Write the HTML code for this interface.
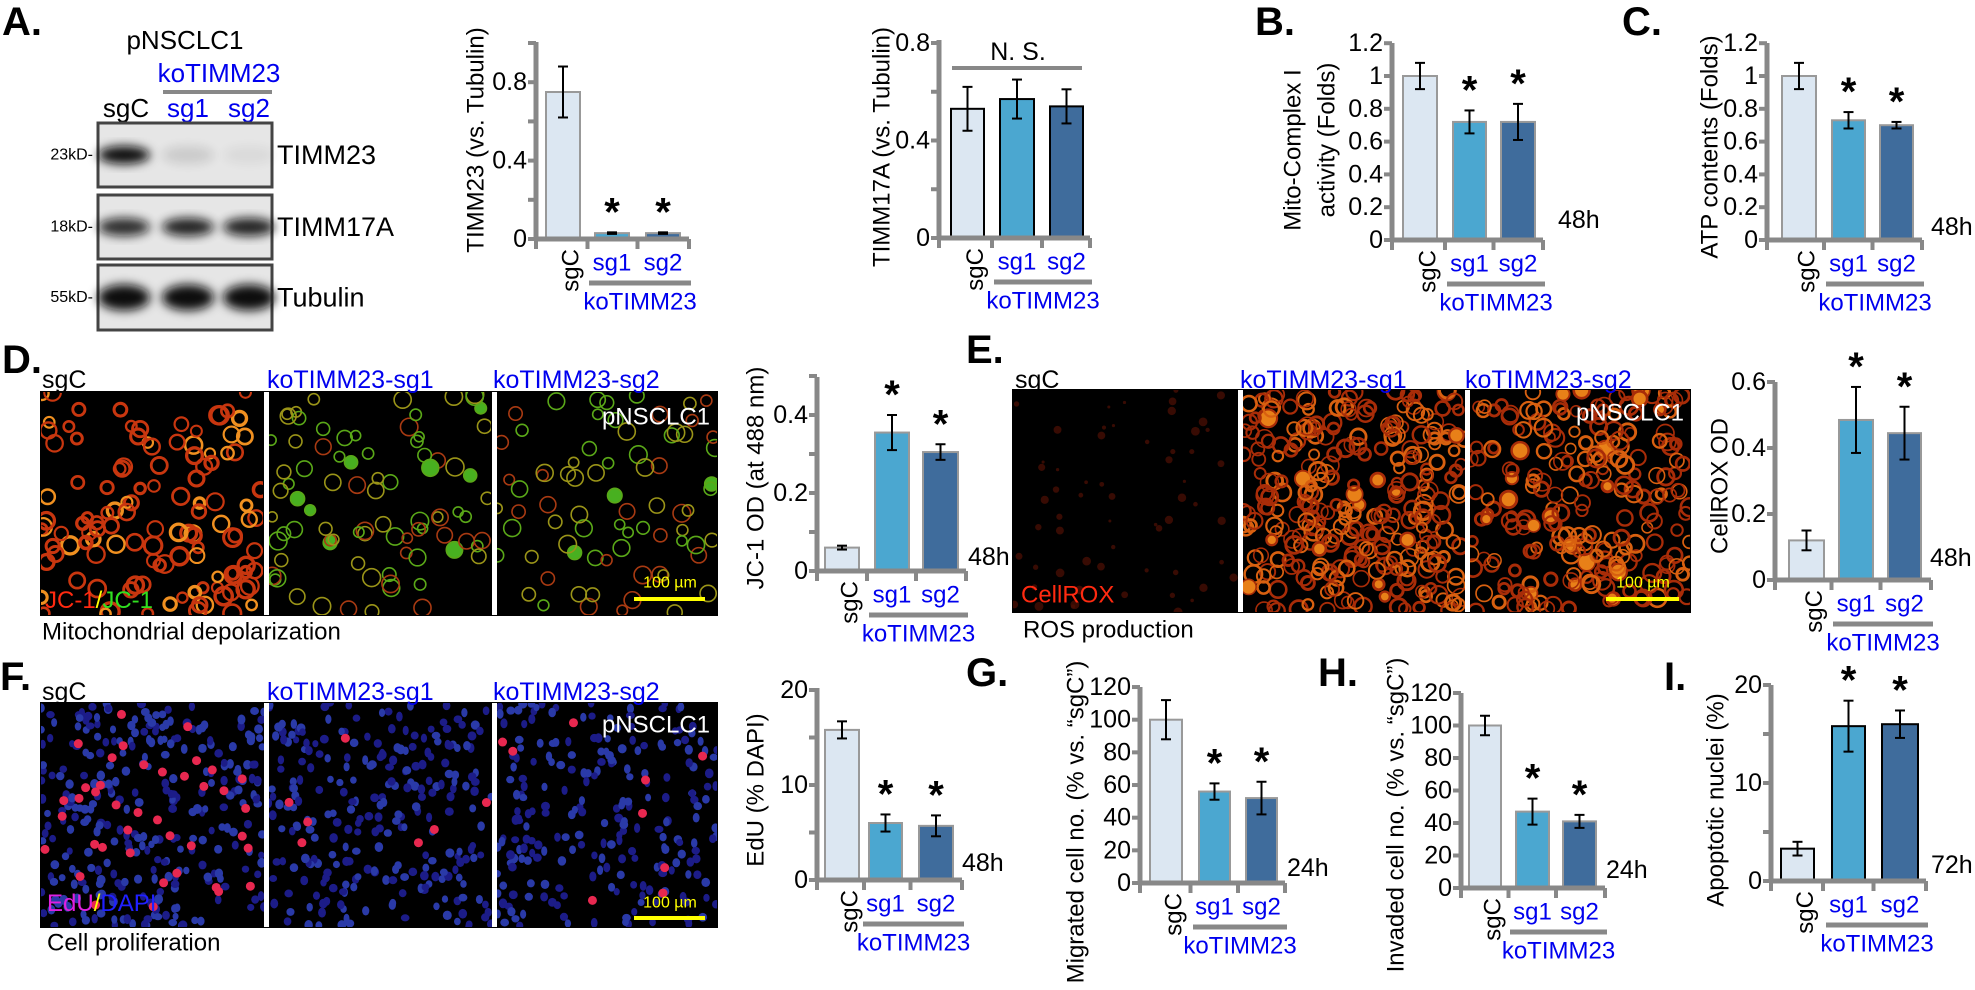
<!DOCTYPE html>
<html><head><meta charset="utf-8">
<style>
html,body{margin:0;padding:0;background:#fff;}
svg{display:block;}
text{font-family:"Liberation Sans",Arial,sans-serif;}
</style></head>
<body>
<svg id="s" width="1975" height="990" viewBox="0 0 1975 990" xmlns="http://www.w3.org/2000/svg">
<defs>
<filter id="bl" x="-20%" y="-50%" width="140%" height="200%"><feGaussianBlur stdDeviation="5"/></filter>
</defs>
<g id="g"></g>
</svg>
<script>
var out=[];
function T(x,y,t,o){o=o||{};out.push('<text x="'+x+'" y="'+y+'" font-size="'+(o.fs||24)+'" fill="'+(o.c||'#000')+'"'+(o.b?' font-weight="bold"':'')+' text-anchor="'+(o.a||'start')+'" dominant-baseline="'+(o.db||'central')+'"'+(o.rot?' transform="rotate(-90 '+x+' '+y+')"':'')+'>'+t+'</text>');}
function L(x1,y1,x2,y2,c,w){out.push('<line x1="'+x1+'" y1="'+y1+'" x2="'+x2+'" y2="'+y2+'" stroke="'+c+'" stroke-width="'+w+'"/>');}
function R(x,y,w,h,f,s,sw){out.push('<rect x="'+x+'" y="'+y+'" width="'+w+'" height="'+h+'" fill="'+f+'"'+(s?' stroke="'+s+'" stroke-width="'+(sw||2)+'"':'')+'/>');}
var BL='#0000ee', GR='#888';
var COL=['#dce7f2','#4ba7d0','#3f6c9c'];
function chart(c){
  var ax=c.ax,y0=c.y0,p=c.ppu;
  for(var i=0;i<3;i++){var b=c.bars[i],v=c.v[i],e=c.e[i];
    var yt=y0-v*p; R(b[0],yt,b[1]-b[0],y0-yt,COL[i],c.bc||'#999',2);
    var cx=(b[0]+b[1])/2; L(cx,yt-e*p,cx,yt+e*p,'#000',2);L(cx-5,yt-e*p,cx+5,yt-e*p,'#000',2);L(cx-5,yt+e*p,cx+5,yt+e*p,'#000',2);
    if(i>0&&c.star) T(cx,yt-e*p-20,'*',{fs:40,b:1,a:'middle'});
  }
  L(ax,c.top,ax,y0+2,GR,5); L(ax-2,y0,c.end,y0,GR,5);
  c.ticks.forEach(function(t){var y=y0-t[0]*p;L(ax-8,y,ax,y,GR,4);if(t[1]!==null)T(ax-9,y,t[1],{fs:25,a:'end'});});
  var xs=[ax,(c.bars[0][1]+c.bars[1][0])/2,(c.bars[1][1]+c.bars[2][0])/2,c.end];
  xs.forEach(function(x){L(x,y0,x,y0+10,GR,4);});
  var ly=y0+24;
  T((c.bars[0][0]+c.bars[0][1])/2+8,y0+10,'sgC',{fs:24,a:'end',rot:1});
  T((c.bars[1][0]+c.bars[1][1])/2,ly,'sg1',{fs:24,a:'middle',c:BL});
  T((c.bars[2][0]+c.bars[2][1])/2,ly,'sg2',{fs:24,a:'middle',c:BL});
  var lx1=c.bars[1][0]-6,lx2=c.end+2; L(lx1,y0+44,lx2,y0+44,GR,5);
  T((lx1+lx2)/2,y0+63,'koTIMM23',{fs:24,a:'middle',c:BL});
  c.yl.forEach(function(l){T(l[0],l[1],l[2],{fs:24,a:'middle',rot:1});});
  if(c.tl) T(c.tl[0],c.tl[1],c.tl[2],{fs:25});
}
function tk(arr,minor){var r=arr.map(function(a){return a;});(minor||[]).forEach(function(m){r.push([m,null]);});return r;}
chart({ax:536,y0:239,ppu:196,top:42,end:689,bars:[[546,580],[595,629],[646,680]],v:[0.75,0.03,0.03],e:[0.13,0.004,0.004],star:1,
 ticks:tk([[0,'0'],[0.4,'0.4'],[0.8,'0.8']],[0.2,0.6,1.0]),yl:[[476,140,'TIMM23 (vs. Tubulin)']]});
chart({ax:939,y0:238,ppu:243.75,top:40,end:1090,bc:'#000',bars:[[951,984],[1000,1034],[1050,1083]],v:[0.53,0.57,0.54],e:[0.09,0.08,0.07],
 ticks:tk([[0,'0'],[0.4,'0.4'],[0.8,'0.8']],[0.2,0.6]),yl:[[882,147,'TIMM17A (vs. Tubulin)']]});
L(952,68,1082,68,GR,4); T(1018,52,'N. S.',{fs:25,a:'middle'});
var bt=tk([[0,'0'],[0.2,'0.2'],[0.4,'0.4'],[0.6,'0.6'],[0.8,'0.8'],[1,'1'],[1.2,'1.2']]);
chart({ax:1392,y0:240,ppu:164,top:43,end:1543,bars:[[1403,1437],[1453,1486],[1501,1535]],v:[1,0.72,0.72],e:[0.08,0.07,0.11],star:1,
 ticks:bt,yl:[[1293,150,'Mito-Complex I'],[1327,140,'activity (Folds)']],tl:[1558,220,'48h']});
chart({ax:1767,y0:240,ppu:164,top:43,end:1922,bars:[[1782,1816],[1832,1865],[1880,1913]],v:[1,0.73,0.70],e:[0.08,0.05,0.02],star:1,
 ticks:bt,yl:[[1710,147,'ATP contents (Folds)']],tl:[1931,227,'48h']});
chart({ax:817,y0:571,ppu:390,top:377,end:966,bars:[[825,859],[875,909],[923,958]],v:[0.06,0.355,0.305],e:[0.005,0.045,0.02],star:1,
 ticks:tk([[0,'0'],[0.2,'0.2'],[0.4,'0.4']],[0.1,0.3,0.5]),yl:[[756,478,'JC-1 OD (at 488 nm)']],tl:[968,557,'48h']});
chart({ax:1775,y0:580,ppu:330,top:382,end:1931,bars:[[1789,1824],[1839,1873],[1888,1921]],v:[0.12,0.485,0.445],e:[0.03,0.1,0.08],star:1,
 ticks:tk([[0,'0'],[0.2,'0.2'],[0.4,'0.4'],[0.6,'0.6']]),yl:[[1720,486,'CellROX OD']],tl:[1930,558,'48h']});
chart({ax:817,y0:880,ppu:9.5,top:688,end:962,bars:[[825,859],[869,902],[919,953]],v:[15.8,6,5.7],e:[0.9,0.9,1.1],star:1,
 ticks:tk([[0,'0'],[10,'10'],[20,'20']],[5,15]),yl:[[756,790,'EdU (% DAPI)']],tl:[962,863,'48h']});
var gt=tk([[0,'0'],[20,'20'],[40,'40'],[60,'60'],[80,'80'],[100,'100'],[120,'120']]);
chart({ax:1140,y0:883,ppu:1.633,top:687,end:1285,bars:[[1150,1182],[1199,1230],[1246,1277]],v:[100,56,52],e:[12,5,10],star:1,
 ticks:gt,yl:[[1076,822,'Migrated cell no. (% vs. “sgC”)']],tl:[1287,868,'24h']});
chart({ax:1461,y0:888,ppu:1.625,top:693,end:1605,bars:[[1469,1501],[1516,1549],[1563,1596]],v:[100,47,41],e:[6,8,4],star:1,
 ticks:gt,yl:[[1396,815,'Invaded cell no. (% vs. “sgC”)']],tl:[1606,870,'24h']});
chart({ax:1771,y0:881,ppu:9.8,top:685,end:1926,bc:'#000',bars:[[1781,1814],[1832,1865],[1882,1918]],v:[3.3,15.8,16],e:[0.7,2.6,1.4],star:1,
 ticks:tk([[0,'0'],[10,'10'],[20,'20']],[5,15]),yl:[[1716,800,'Apoptotic nuclei (%)']],tl:[1931,865,'72h']});

[['A.',2,22],['B.',1255,22],['C.',1622,22],['D.',2,360],['E.',966,350],['F.',0,677],['G.',966,673],['H.',1318,673],['I.',1664,677]].forEach(function(l){T(l[1],l[2],l[0],{fs:40,b:1});});

T(185,40,'pNSCLC1',{fs:26,a:'middle'});
T(219,73,'koTIMM23',{fs:26,a:'middle',c:BL});
L(163,92,272,92,GR,4);
T(126,108,'sgC',{fs:26,a:'middle'});T(188,108,'sg1',{fs:26,a:'middle',c:BL});T(249,108,'sg2',{fs:26,a:'middle',c:BL});
var boxes=[[123,187,'TIMM23','23kD-',[1,0.12,0.05],9],[195,259,'TIMM17A','18kD-',[0.85,0.9,0.9],9],[265,330,'Tubulin','55kD-',[1,1,1],13]];
boxes.forEach(function(b){R(98,b[0],174,b[1]-b[0],'#e6e6e6','#444',3);
 var cy=(b[0]+b[1])/2;[124,188,249].forEach(function(x,i){var a=b[4][i];out.push('<ellipse cx="'+x+'" cy="'+cy+'" rx="26" ry="'+b[5]+'" fill="#111" opacity="'+a+'" filter="url(#bl)"/>');});
 T(277,cy,b[2],{fs:27});T(93,cy,b[3],{fs:16,a:'end'});});

var seed=7;function rnd(){seed=(seed*16807)%2147483647;return seed/2147483647;}
function panel(x,y,w,h,kind,n){
 out.push('<svg x="'+x+'" y="'+y+'" width="'+w+'" height="'+h+'"><rect width="'+w+'" height="'+h+'" fill="#000"/>');
 for(var i=0;i<n;i++){var cx=rnd()*w,cy=rnd()*h;
  if(kind=='ro'){var r=5+rnd()*4;out.push('<circle cx="'+cx+'" cy="'+cy+'" r="'+r+'" fill="none" stroke="'+(rnd()<0.25?'#f09020':'#c8360f')+'" stroke-width="'+(2+rnd()*1.5)+'"/>');}
  else if(kind=='gr'){var r=5+rnd()*4;var c=rnd();out.push('<circle cx="'+cx+'" cy="'+cy+'" r="'+r+'" fill="'+(c<0.04?'#48b020':'none')+'" stroke="'+(c<0.45?'#5aa818':c<0.75?'#9a9418':'#a83a12')+'" stroke-width="1.6"/>');}
  else if(kind=='dr'){out.push('<circle cx="'+cx+'" cy="'+cy+'" r="'+(1.5+rnd()*3)+'" fill="#501004" opacity="0.7"/>');}
  else if(kind=='or'){var r=5+rnd()*4;var c=rnd();out.push('<circle cx="'+cx+'" cy="'+cy+'" r="'+r+'" fill="'+(c<0.05?'#e88018':'none')+'" stroke="'+(c<0.6?'#a82c08':'#d86010')+'" stroke-width="'+(1.5+rnd()*1.5)+'"/>');}
  else if(kind=='bl'){var c=rnd();out.push('<ellipse cx="'+cx+'" cy="'+cy+'" rx="'+(3+rnd()*1.5)+'" ry="'+(3.5+rnd()*1.5)+'" fill="'+(c<0.5?'#1c1c88':'#2a3aa8')+'"/>');}
 }
 out.push('</svg>');
}
R(40,391,678,225,'#000');
panel(41,392,222,223,'ro',120);panel(269,392,222,223,'gr',85);panel(497,392,220,223,'gr',75);
R(264,392,5,223,'#fff');R(492,392,5,223,'#fff');
T(42,380,'sgC',{fs:25});T(267,380,'koTIMM23-sg1',{fs:25,c:BL});T(493,380,'koTIMM23-sg2',{fs:25,c:BL});
T(710,417,'pNSCLC1',{fs:24,c:'#fff',a:'end'});
L(634,599,705,599,'#ffff00',4);T(670,583,'100 µm',{fs:16,c:'#ffff00',a:'middle'});
out.push('<text x="45" y="600" font-size="24" dominant-baseline="central"><tspan fill="#ff2a10">JC-1</tspan><tspan fill="#ffff00">/</tspan><tspan fill="#30e020">JC-1</tspan></text>');
T(42,632,'Mitochondrial depolarization',{fs:24});
R(1012,389,679,224,'#000');
panel(1013,390,225,222,'dr',60);panel(1243,390,222,222,'or',300);panel(1470,390,220,222,'or',230);
R(1238,390,5,222,'#fff');R(1465,390,5,222,'#fff');
T(1015,380,'sgC',{fs:25});T(1240,380,'koTIMM23-sg1',{fs:25,c:BL});T(1465,380,'koTIMM23-sg2',{fs:25,c:BL});
T(1684,413,'pNSCLC1',{fs:24,c:'#fff',a:'end'});
L(1606,599,1679,599,'#ffff00',4);T(1643,583,'100 µm',{fs:16,c:'#ffff00',a:'middle'});
T(1021,595,'CellROX',{fs:24,c:'#ff2a10'});
T(1023,630,'ROS production',{fs:24});
R(40,702,678,226,'#000');
seed=99;panel(41,703,223,224,'bl',300);seed=11;panel(269,703,223,224,'bl',260);seed=21;panel(497,703,220,224,'bl',230);
seed=5;for(var i=0;i<40;i++){out.push('<circle cx="'+(45+rnd()*215)+'" cy="'+(706+rnd()*218)+'" r="4.5" fill="#e82850"/>');}
for(var i=0;i<7;i++){out.push('<circle cx="'+(272+rnd()*215)+'" cy="'+(706+rnd()*218)+'" r="4.5" fill="#e82850"/>');}
for(var i=0;i<9;i++){out.push('<circle cx="'+(500+rnd()*212)+'" cy="'+(706+rnd()*218)+'" r="4.5" fill="#e82850"/>');}
R(264,703,5,224,'#fff');R(492,703,5,224,'#fff');
T(42,692,'sgC',{fs:25});T(267,692,'koTIMM23-sg1',{fs:25,c:BL});T(493,692,'koTIMM23-sg2',{fs:25,c:BL});
T(710,725,'pNSCLC1',{fs:24,c:'#fff',a:'end'});
L(634,918,705,918,'#ffff00',4);T(670,903,'100 µm',{fs:16,c:'#ffff00',a:'middle'});
out.push('<text x="47" y="903" font-size="24" dominant-baseline="central"><tspan fill="#e020e0">EdU</tspan><tspan fill="#ffff00">/</tspan><tspan fill="#2020ff">DAPI</tspan></text>');
T(47,943,'Cell proliferation',{fs:24});

document.getElementById('g').innerHTML=out.join('');
</script>
</body></html>
